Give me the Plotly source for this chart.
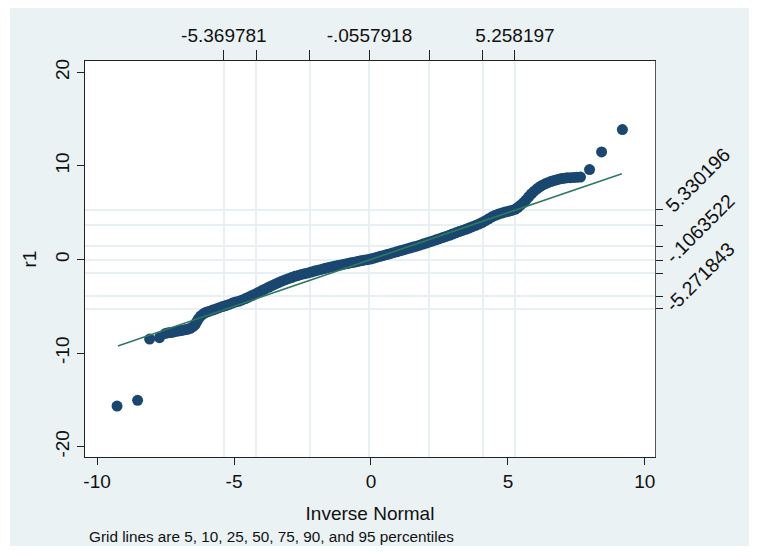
import plotly.graph_objects as go

# ---- data ----
# quantile pairs (inverse-normal value, r1) for the plotted observations
qx = [-9.27, -8.52, -8.08, -7.72,
      -7.50, -7.40, -7.30, -7.20, -7.10, -7.00, -6.90, -6.80, -6.70, -6.60, -6.50, -6.42, -6.36, -6.30,
      -6.22, -6.12, -6.02, -5.90, -5.78, -5.66, -5.54, -5.42, -5.30, -5.18, -5.06, -4.94, -4.82, -4.70,
      -4.58, -4.46, -4.34, -4.22, -4.10, -3.98, -3.86, -3.74, -3.62, -3.50, -3.38, -3.26, -3.14, -3.02,
      -2.90, -2.78, -2.66, -2.54, -2.42, -2.30, -2.18, -2.06, -1.94, -1.82, -1.70, -1.58, -1.46, -1.34,
      -1.22, -1.10, -0.98, -0.86, -0.74, -0.62, -0.50, -0.38, -0.26, -0.14, -0.02, 0.10, 0.22, 0.34,
      0.46, 0.58, 0.70, 0.82, 0.94, 1.06, 1.18, 1.30, 1.42, 1.54, 1.66, 1.78, 1.90, 2.02, 2.14, 2.26,
      2.38, 2.50, 2.62, 2.74, 2.86, 2.98, 3.10, 3.22, 3.34, 3.46, 3.58, 3.70, 3.82, 3.94, 4.06, 4.18,
      4.30, 4.42, 4.54, 4.66, 4.78, 4.90, 5.02, 5.14, 5.26, 5.36, 5.46, 5.56, 5.66, 5.76, 5.86, 5.96,
      6.06, 6.16, 6.26, 6.36, 6.46, 6.56, 6.66, 6.76, 6.86, 6.96, 7.06, 7.16, 7.28, 7.40, 7.52, 7.65,
      7.98, 8.42, 9.18]
r1 = [-15.66, -15.05, -8.50, -8.36,
      -7.90, -7.82, -7.80, -7.74, -7.68, -7.62, -7.58, -7.52, -7.46, -7.36, -7.18, -6.95, -6.65, -6.35,
      -6.05, -5.80, -5.65, -5.52, -5.40, -5.28, -5.15, -5.03, -4.92, -4.80, -4.66, -4.54, -4.45, -4.32,
      -4.18, -4.02, -3.85, -3.68, -3.50, -3.32, -3.15, -2.98, -2.80, -2.64, -2.48, -2.32, -2.18, -2.05,
      -1.93, -1.80, -1.70, -1.60, -1.52, -1.44, -1.35, -1.24, -1.14, -1.06, -0.97, -0.88, -0.80, -0.72,
      -0.64, -0.58, -0.50, -0.44, -0.36, -0.30, -0.22, -0.15, -0.08, -0.02, 0.05, 0.14, 0.24, 0.34,
      0.43, 0.52, 0.62, 0.72, 0.82, 0.92, 1.02, 1.12, 1.22, 1.32, 1.42, 1.53, 1.64, 1.76, 1.87, 1.98,
      2.10, 2.22, 2.34, 2.46, 2.58, 2.72, 2.85, 2.98, 3.10, 3.22, 3.36, 3.50, 3.64, 3.78, 3.95, 4.14,
      4.35, 4.55, 4.72, 4.85, 4.96, 5.06, 5.14, 5.24, 5.36, 5.55, 5.80, 6.05, 6.35, 6.70, 7.02, 7.30,
      7.55, 7.76, 7.94, 8.08, 8.20, 8.32, 8.42, 8.50, 8.58, 8.64, 8.68, 8.72, 8.74, 8.76, 8.78, 8.80,
      9.60, 11.49, 13.87]

# reference line y = x over the data range
line_x = [-9.24, 9.16]
line_y = [-9.24, 9.16]

# percentile grid (5, 10, 25, 50, 75, 90, 95)
normal_pct = [-5.369781, -4.1956, -2.2346, -0.0557918, 2.1230, 4.0840, 5.258197]
normal_pct_text = ["-5.369781", "", "", "-.0557918", "", "", "5.258197"]
data_pct = [-5.271843, -3.95, -1.46, -0.1063522, 1.39, 3.66, 5.330196]
data_pct_text = ["-5.271843", "", "", "-.1063522", "", "", "5.330196"]

x_ticks = [-10, -5, 0, 5, 10]
y_ticks = [-20, -10, 0, 10, 20]

x_range = [-10.44, 10.37]
y_range = [-21.1, 21.2]

FONT = "Liberation Sans, Arial, sans-serif"
NAVY = "#1a476f"
LINE_GREEN = "#2e7a5e"
GRID = "#e9f0f3"
BG = "#eaf2f3"
AX = "#222222"

fig = go.Figure()
fig.add_trace(go.Scatter(x=qx, y=r1, mode="markers",
                         marker=dict(color=NAVY, size=11, line=dict(width=0)),
                         showlegend=False, hoverinfo="skip"))
fig.add_trace(go.Scatter(x=line_x, y=line_y, mode="lines",
                         line=dict(color=LINE_GREEN, width=1.6),
                         showlegend=False, hoverinfo="skip"))
fig.add_trace(go.Scatter(x=[None], y=[None], xaxis="x2", yaxis="y2",
                         mode="markers", showlegend=False, hoverinfo="skip"))

# page is offset by the 8px body margin; figure coordinates below
W, H = 750, 545
L, R, T, B = 77, 647, 53, 449
pw, ph = R - L, B - T

fig.add_shape(type="rect", xref="paper", yref="paper", layer="below",
              x0=(2 - L) / pw, x1=(741 - L) / pw,
              y0=(B - 538) / ph, y1=(B + 5) / ph,
              fillcolor=BG, line=dict(width=0))
fig.add_shape(type="rect", xref="paper", yref="paper", layer="below",
              x0=0, x1=1, y0=0, y1=1, fillcolor="white", line=dict(width=0))

fig.update_layout(
    width=W, height=H,
    margin=dict(l=L, r=W - R, t=T, b=H - B),
    paper_bgcolor="white", plot_bgcolor="rgba(0,0,0,0)",
    font=dict(family=FONT, color="#111111", size=18),
    xaxis=dict(range=x_range, tickvals=x_ticks, ticktext=[str(v) for v in x_ticks],
               showgrid=False, zeroline=False, showline=True, linecolor=AX, linewidth=1,
               ticks="outside", ticklen=7, tickcolor=AX, tickfont=dict(size=19),
               title=dict(text="Inverse Normal", font=dict(size=19), standoff=15)),
    yaxis=dict(range=y_range, tickvals=y_ticks, ticktext=[str(v) for v in y_ticks],
               showgrid=False, zeroline=False, showline=True, linecolor=AX, linewidth=1,
               ticks="outside", ticklen=7, tickcolor=AX, tickangle=-90, tickfont=dict(size=19),
               title=dict(text="r1", font=dict(size=19), standoff=10)),
    xaxis2=dict(range=x_range, overlaying="x", side="top", anchor="y",
                tickvals=normal_pct, ticktext=normal_pct_text,
                showgrid=True, gridcolor=GRID, gridwidth=2, zeroline=False,
                showline=True, linecolor=AX, linewidth=1,
                ticks="outside", ticklen=10, tickcolor=AX, tickfont=dict(size=19)),
    yaxis2=dict(range=y_range, overlaying="y", side="right", anchor="x",
                tickvals=data_pct, ticktext=data_pct_text,
                showgrid=True, gridcolor=GRID, gridwidth=2, zeroline=False,
                showline=True, linecolor="#555555", linewidth=1,
                ticks="outside", ticklen=7, tickcolor=AX, tickangle=-45, tickfont=dict(size=19.5)),
)

fig.add_annotation(text="Grid lines are 5, 10, 25, 50, 75, 90, and 95 percentiles",
                   xref="paper", yref="paper", x=(79 - L) / pw, y=(B - 528) / ph,
                   xanchor="left", yanchor="middle", showarrow=False,
                   font=dict(size=15.3, family=FONT, color="#111111"))

fig.write_html("out.html")
